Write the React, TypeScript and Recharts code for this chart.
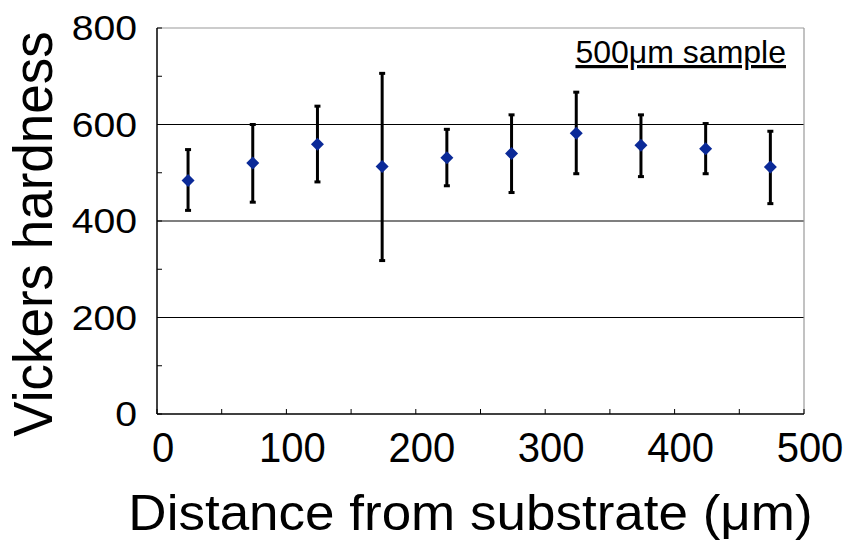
import React from "react";
import {
  ComposedChart,
  ErrorBar,
  ReferenceLine,
  Scatter,
  XAxis,
  YAxis,
} from "recharts";

const distance = [24, 74, 124, 174, 224, 274, 324, 374, 424, 474];
const hardness = [484, 520, 559, 513, 531, 540, 582, 557, 550, 512];
const upper = [548, 600, 638, 706, 590, 620, 667, 620, 602, 586];
const lower = [422, 439, 481, 318, 473, 459, 498, 492, 498, 436];

const xTicks = [0, 50, 100, 150, 200, 250, 300, 350, 400, 450, 500];
const yTicks = [0, 100, 200, 300, 400, 500, 600, 700, 800];
const gridLines = [200, 400, 600];

const FONT = "'Liberation Sans', Arial, sans-serif";

const rows = distance.map((d, i) => ({
  x: d,
  y: hardness[i],
  err: [hardness[i] - lower[i], upper[i] - hardness[i]],
}));

function Diamond(props: any) {
  const { cx, cy } = props;
  const r = 6.5;
  return (
    <polygon
      points={`${cx},${cy - r} ${cx + r},${cy} ${cx},${cy + r} ${cx - r},${cy}`}
      fill="#0b2a98"
    />
  );
}

function YTick(props: any) {
  const { x, y, payload } = props;
  if (payload.value % 200 !== 0) return <g />;
  return (
    <text
      transform={`translate(${x},${y}) scale(1.12,1)`}
      textAnchor="end"
      dominantBaseline="central"
      fontSize={35}
      fontFamily={FONT}
      fill="#000"
    >
      {payload.value}
    </text>
  );
}

function XTick(props: any) {
  const { x, y, payload } = props;
  if (payload.value % 100 !== 0) return <g />;
  return (
    <text
      transform={`translate(${x + 6},${y}) scale(1,1.05)`}
      dy="0.72em"
      textAnchor="middle"
      fontSize={40}
      fontFamily={FONT}
      fill="#000"
    >
      {payload.value}
    </text>
  );
}

function YTitle(props: any) {
  const { viewBox } = props;
  const cx = viewBox.x + 33;
  const cy = viewBox.y + viewBox.height / 2 + 13;
  return (
    <text
      transform={`translate(${cx},${cy}) rotate(-90) scale(1,1.05)`}
      textAnchor="middle"
      dominantBaseline="central"
      fontSize={53}
      fontFamily={FONT}
      fill="#000"
    >
      Vickers hardness
    </text>
  );
}

function XTitle(props: any) {
  const { viewBox } = props;
  const cx = viewBox.x + viewBox.width / 2 - 10;
  const by = viewBox.y + 116;
  return (
    <text
      transform={`translate(${cx},${by}) scale(1.06,1)`}
      textAnchor="middle"
      fontSize={50}
      fontFamily={FONT}
      fill="#000"
    >
      Distance from substrate (μm)
    </text>
  );
}

function SampleNote(props: any) {
  const { viewBox } = props;
  return (
    <text
      x={viewBox.x + viewBox.width - 18}
      y={viewBox.y + 35}
      textAnchor="end"
      fontSize={32}
      fontFamily={FONT}
      fill="#000"
      textDecoration="underline"
    >
      500μm sample
    </text>
  );
}

export default function App() {
  return (
    <div style={{ position: "absolute", left: 0, top: 0, background: "#fff" }}>
      <ComposedChart
        width={850}
        height={543}
        data={rows}
        margin={{ top: 28, right: 46, bottom: 0, left: 0 }}
      >
        <XAxis
          type="number"
          dataKey="x"
          domain={[0, 500]}
          ticks={xTicks}
          interval={0}
          height={129}
          tickSize={-5}
          tickMargin={23}
          axisLine={{ stroke: "#000", strokeWidth: 1.5 }}
          tickLine={{ stroke: "#000" }}
          tick={XTick}
          label={<XTitle />}
        />
        <YAxis
          type="number"
          domain={[0, 800]}
          ticks={yTicks}
          interval={0}
          width={157}
          tickSize={-5}
          tickMargin={25}
          axisLine={{ stroke: "#000", strokeWidth: 1.5 }}
          tickLine={{ stroke: "#000" }}
          tick={YTick}
          label={<YTitle />}
        />
        {gridLines.map((g) => (
          <ReferenceLine key={g} y={g} stroke="#000" strokeWidth={1.2} />
        ))}
        <ReferenceLine y={800} stroke="#999" strokeWidth={1.2} label={<SampleNote />} />
        <ReferenceLine x={500} stroke="#999" strokeWidth={1.2} />
        <Scatter dataKey="y" shape={<Diamond />} isAnimationActive={false}>
          <ErrorBar
            dataKey="err"
            direction="y"
            width={3}
            strokeWidth={3}
            stroke="#000"
            isAnimationActive={false}
          />
        </Scatter>
      </ComposedChart>
    </div>
  );
}
